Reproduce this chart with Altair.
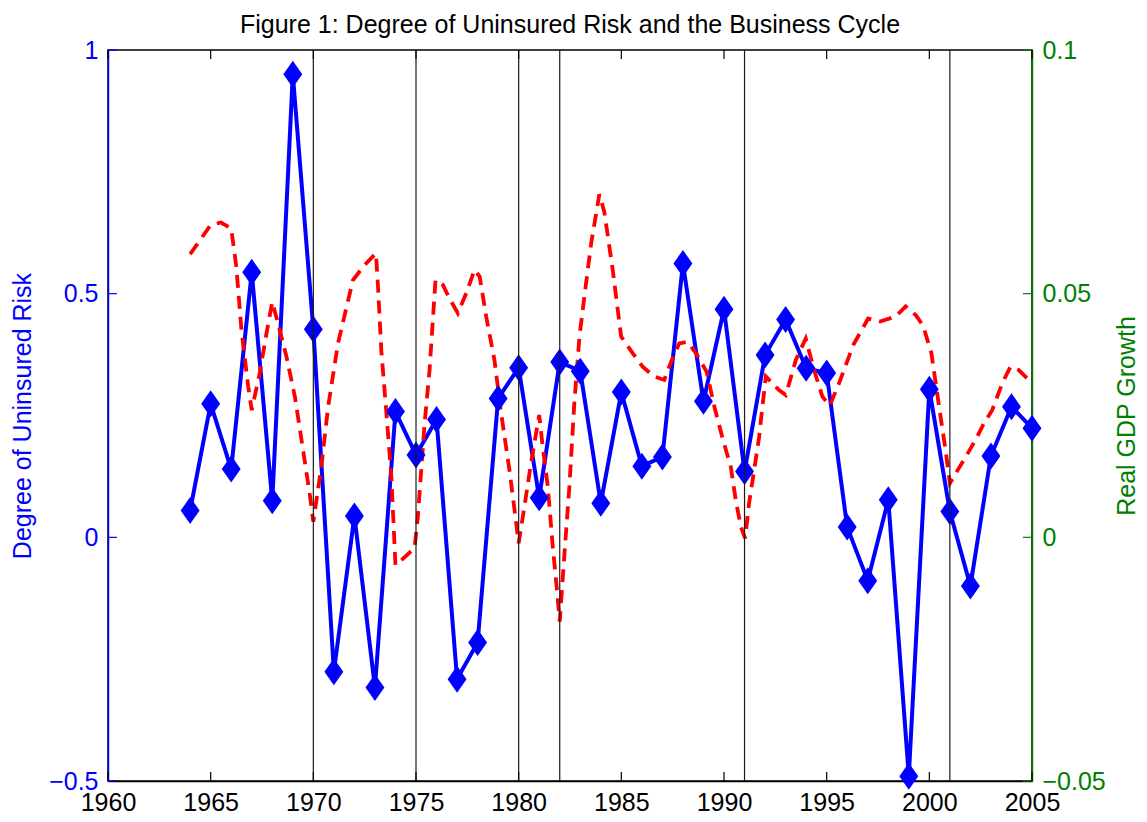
import altair as alt
import pandas as pd

# ---- data ----
years = list(range(1964, 2006))
risk = [0.055, 0.274, 0.140, 0.544, 0.075, 0.950, 0.427, -0.276, 0.044, -0.308,
        0.258, 0.169, 0.242, -0.291, -0.216, 0.285, 0.348, 0.081, 0.360, 0.341,
        0.070, 0.298, 0.146, 0.165, 0.562, 0.279, 0.468, 0.135, 0.374, 0.447,
        0.347, 0.337, 0.021, -0.089, 0.077, -0.490, 0.304, 0.053, -0.100, 0.167,
        0.268, 0.224]

gdp_time = [1964.0, 1965.0, 1965.5, 1966.0, 1966.25, 1966.5, 1966.83, 1967.0,
            1967.39, 1967.72, 1968.0, 1968.28, 1968.69, 1969.1, 1969.5, 1969.82,
            1970.0, 1970.39, 1970.72, 1971.2, 1971.93, 1972.5, 1973.05, 1973.15,
            1973.31, 1973.56, 1973.8, 1974.0, 1974.28, 1974.93, 1975.09, 1975.42,
            1975.66, 1975.82, 1975.95, 1976.31, 1976.63, 1977.04, 1977.45, 1977.85,
            1978.1, 1978.42, 1978.82, 1979.15, 1979.55, 1979.8, 1980.0, 1980.28,
            1980.6, 1981.0, 1981.17, 1981.42, 1981.66, 1981.82, 1982.0, 1982.23,
            1982.47, 1982.71, 1982.96, 1983.2, 1983.53, 1983.93, 1984.17, 1984.58,
            1984.99, 1985.55, 1986.04, 1986.6, 1987.09, 1987.42, 1987.82, 1988.22,
            1988.63, 1989.15, 1989.55, 1989.95, 1990.33, 1990.57, 1990.82, 1991.03,
            1991.22, 1991.47, 1991.71, 1991.87, 1992.04, 1992.68, 1993.01, 1993.5,
            1993.98, 1994.39, 1994.79, 1995.15, 1995.6, 1996.3, 1997.02, 1997.6,
            1998.36, 1998.85, 1999.34, 1999.7, 2000.1, 2000.31, 2000.55, 2000.79,
            2001.0, 2001.44, 2001.77, 2002.25, 2002.66, 2003.06, 2003.55, 2003.95,
            2004.36, 2004.84]
gdp_growth = [0.0581, 0.0641, 0.0646, 0.0634, 0.0555, 0.0425, 0.0309, 0.0261,
              0.0337, 0.0419, 0.0483, 0.0439, 0.0371, 0.0289, 0.0179, 0.0090,
              0.0032, 0.0145, 0.0268, 0.0398, 0.0528, 0.0559, 0.0583, 0.0514,
              0.0384, 0.0254, 0.0124, -0.0057, -0.0047, -0.0022, 0.0042, 0.0234,
              0.0343, 0.0446, 0.0528, 0.0518, 0.0490, 0.0460, 0.0501, 0.0549,
              0.0535, 0.0453, 0.0364, 0.0254, 0.0138, 0.0056, -0.0012, 0.0063,
              0.0152, 0.0251, 0.0186, 0.0104, -0.0019, -0.0088, -0.0173, -0.0033,
              0.0104, 0.0275, 0.0412, 0.0494, 0.0603, 0.0704, 0.0668, 0.0549,
              0.0412, 0.0378, 0.0350, 0.0330, 0.0323, 0.0360, 0.0398, 0.0401,
              0.0378, 0.0340, 0.0265, 0.0200, 0.0145, 0.0077, 0.0022, -0.0002,
              0.0070, 0.0138, 0.0206, 0.0268, 0.0330, 0.0302, 0.0292, 0.0364,
              0.0408, 0.0343, 0.0289, 0.0270, 0.0316, 0.0395, 0.0449, 0.0443,
              0.0453, 0.0474, 0.0456, 0.0434, 0.0378, 0.0316, 0.0247, 0.0179,
              0.0111, 0.0142, 0.0165, 0.0200, 0.0234, 0.0261, 0.0316, 0.0350,
              0.0343, 0.0323]

recession_years = [1970, 1975, 1980, 1982, 1991, 2001]
x_ticks = [1960, 1965, 1970, 1975, 1980, 1985, 1990, 1995, 2000, 2005]
left_ticks = [-0.5, 0, 0.5, 1]
right_ticks = [-0.05, 0, 0.05, 0.1]

FONT = "Liberation Sans"
BLUE = "#0000ff"
GREEN = "#008000"
RED = "#ff0000"
W, H = 924, 731
FS = 25

xscale = alt.Scale(domain=[1960, 2005], nice=False, zero=False)
yl = alt.Scale(domain=[-0.5, 1], nice=False, zero=False)
yr = alt.Scale(domain=[-0.05, 0.1], nice=False, zero=False)

blue_df = pd.DataFrame({"year": years, "risk": risk})
red_df = pd.DataFrame({"year": gdp_time, "gdp": gdp_growth})
rec_df = pd.DataFrame({"year": recession_years})
xt_df = pd.DataFrame({"year": x_ticks})
lt_df = pd.DataFrame({"year": [1960] * len(left_ticks), "v": left_ticks})
rt_df = pd.DataFrame({"year": [2005] * len(right_ticks), "v": right_ticks})

x_axis = alt.Axis(values=x_ticks, format="d", title=None, ticks=False, grid=False,
                  labelFontSize=FS, labelColor="black", domainColor="black",
                  domainWidth=1.5, labelPadding=9, labelFlush=False,
                  labelOverlap=False, labelFont=FONT)

left_axis = alt.Axis(orient="left", values=left_ticks, format="~g", ticks=False,
                     grid=False, domainColor=BLUE, domainWidth=1.5,
                     labelColor=BLUE, labelFontSize=FS, labelPadding=10,
                     labelOverlap=False, labelFont=FONT,
                     title="Degree of Uninsured Risk", titleFont=FONT,
                     titleColor=BLUE, titleFontSize=FS, titleFontWeight="normal",
                     titlePadding=13)

right_axis = alt.Axis(orient="right", values=right_ticks, format="~g", ticks=False,
                      grid=False, domainColor=GREEN, domainWidth=1.5,
                      labelColor=GREEN, labelFontSize=FS, labelPadding=10,
                      labelOverlap=False, labelFont=FONT,
                      title="Real GDP Growth", titleFont=FONT,
                      titleColor=GREEN, titleFontSize=FS, titleFontWeight="normal",
                      titleAngle=270, titlePadding=34)

X = alt.X("year:Q", scale=xscale, axis=x_axis)
diamond = "M0,-1L0.7,0L0,1L-0.7,0Z"

blue_line = alt.Chart(blue_df).mark_line(color=BLUE, strokeWidth=4).encode(
    x=X, y=alt.Y("risk:Q", scale=yl, axis=left_axis),
)
blue_pts = alt.Chart(blue_df).mark_point(shape=diamond, filled=True, color=BLUE,
                                          opacity=1, size=729).encode(
    x=X, y=alt.Y("risk:Q", scale=yl, axis=None),
)
left_tick_marks = alt.Chart(lt_df).mark_rule(color=BLUE, strokeWidth=1.2).encode(
    y=alt.Y("v:Q", scale=yl, axis=None),
    x=alt.value(0), x2=alt.value(9),
)
red_line = alt.Chart(red_df).mark_line(color=RED, strokeWidth=3.8,
                                       strokeDash=[13, 8]).encode(
    x=X, y=alt.Y("gdp:Q", scale=yr, axis=right_axis),
)
right_tick_marks = alt.Chart(rt_df).mark_rule(color=GREEN, strokeWidth=1.2).encode(
    y=alt.Y("v:Q", scale=yr, axis=None),
    x=alt.value(W - 9), x2=alt.value(W),
)
rec_lines = alt.Chart(rec_df).mark_rule(color="#1a1a1a", strokeWidth=1.2).encode(
    x=X,
)
bottom_ticks = alt.Chart(xt_df).mark_rule(color="black", strokeWidth=1.2).encode(
    x=X, y=alt.value(H), y2=alt.value(H - 9),
)
top_ticks = alt.Chart(xt_df).mark_rule(color="black", strokeWidth=1.2).encode(
    x=X, y=alt.value(0), y2=alt.value(9),
)

chart = alt.layer(
    blue_line, red_line, blue_pts, left_tick_marks, right_tick_marks,
    rec_lines, bottom_ticks, top_ticks,
).resolve_scale(y="independent").properties(
    width=W, height=H,
    background="white",
    autosize=alt.AutoSizeParams(type="none"),
    padding={"left": 100, "top": 42, "right": 107, "bottom": 33},
    title=alt.TitleParams("Figure 1: Degree of Uninsured Risk and the Business Cycle",
                          fontSize=25, font=FONT, fontWeight="normal",
                          anchor="middle", offset=2, dy=2, color="black"),
).configure_view(stroke="black", strokeWidth=1.5)

chart.save("out.html", embed_options={"renderer": "svg", "actions": False})
